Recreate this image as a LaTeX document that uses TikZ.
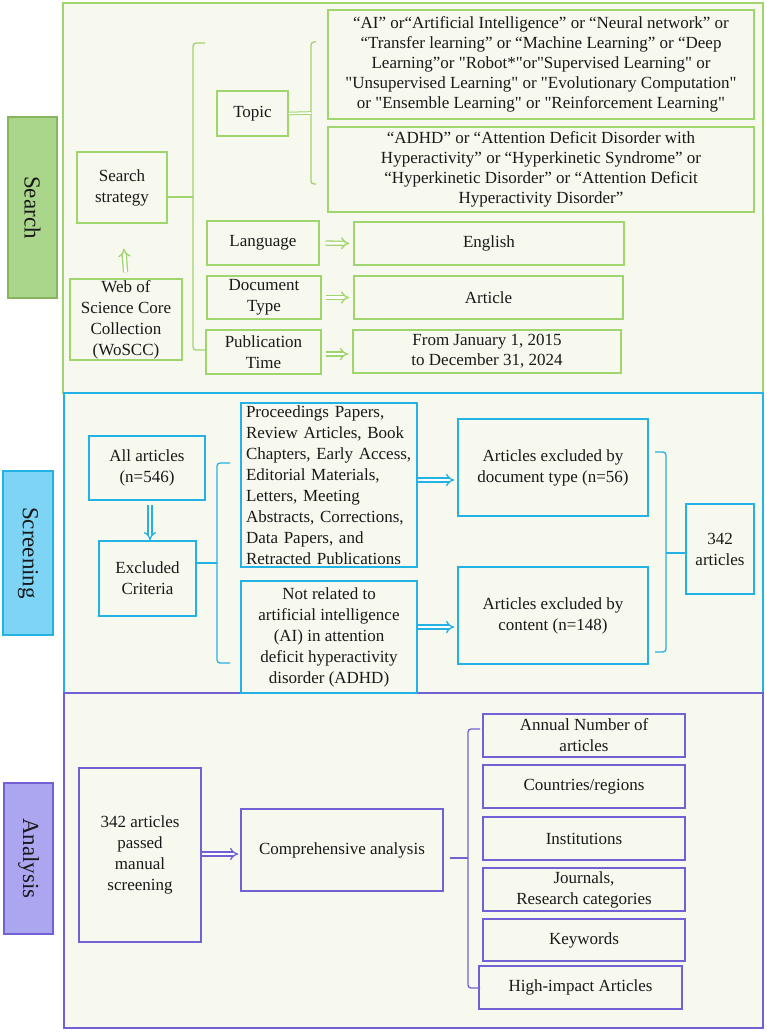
\documentclass[tikz,border=0pt]{standalone}
\usepackage{fontspec}
\setmainfont{Liberation Serif}
\newfontfamily\qf{Liberation Serif}
\usetikzlibrary{arrows.meta}
\definecolor{gcol}{RGB}{160,212,110}
\definecolor{glbl}{RGB}{170,214,140}
\definecolor{bcol}{RGB}{35,178,228}
\definecolor{blbl}{RGB}{125,212,245}
\definecolor{pcol}{RGB}{112,98,212}
\definecolor{plbl}{RGB}{172,166,240}
\definecolor{bg}{RGB}{247,249,238}
\definecolor{txt}{RGB}{25,25,25}
\newcommand{\fs}{\fontsize{17}{21}\selectfont}
\newcommand{\fss}{\qf\fontsize{17}{20}\selectfont}
\newcommand{\lfs}{\fontsize{23}{26}\selectfont}
\tikzset{
  base/.style={inner sep=0pt, align=center, font=\fs, text=txt},
  gbox/.style={base, draw=gcol, line width=1.4pt},
  bbox/.style={base, draw=bcol, line width=1.4pt},
  pbox/.style={base, draw=pcol, line width=1.3pt},
  sect/.style={inner sep=0pt, line width=1.3pt, fill=bg},
  lbl/.style={inner sep=0pt, rotate=-90, font=\lfs, text=txt, line width=1.4pt},
  harrow/.style={double, double distance=2.8pt, line width=1.3pt, -{Implies[scale=1.5]}},
  brace/.style={line width=1.3pt, rounded corners=3pt}
}
\begin{document}
\begin{tikzpicture}[x=1pt,y=-1pt]
\useasboundingbox (0,0) rectangle (767,1032);
% sections
\node[sect, draw=gcol, minimum width=700pt, minimum height=390pt] (secS) at (413,198) {};
\node[sect, draw=bcol, minimum width=699pt, minimum height=300pt] (secR) at (413.5,543) {};
\node[sect, draw=pcol, minimum width=699pt, minimum height=335pt] (secA) at (413.5,860.5) {};
% labels
\node[lbl, draw=gcol!85!black, fill=glbl, minimum width=181pt, minimum height=49pt] (lS) at (32.5,207.5) {Search};
\node[lbl, draw=bcol, fill=blbl, minimum width=164pt, minimum height=50pt] (lR) at (28,553) {Screening};
\node[lbl, draw=pcol, fill=plbl, minimum width=151pt, minimum height=49pt] (lA) at (28.5,858.5) {Analysis};

% ---------- Search ----------
\node[gbox, minimum width=90pt, minimum height=71pt] (strat) at (122,187.5) {Search\\strategy};
\node[gbox, minimum width=112pt, minimum height=81pt] (wos) at (126,319.5) {Web of\\Science Core\\Collection\\(WoSCC)};
\node[gbox, minimum width=71pt, minimum height=45pt] (topic) at (252.5,113.5) {Topic};
\node[gbox, font=\fss, minimum width=426pt, minimum height=109pt] (ai) at (541,64.5) {“AI” or“Artificial Intelligence” or “Neural network” or\\“Transfer learning” or “Machine Learning” or “Deep\\Learning”or "Robot*"or"Supervised Learning" or\\"Unsupervised Learning" or "Evolutionary Computation"\\or "Ensemble Learning" or "Reinforcement Learning"};
\node[gbox, font=\fss, minimum width=426pt, minimum height=85pt] (adhd) at (541,169.5) {“ADHD” or “Attention Deficit Disorder with\\Hyperactivity” or “Hyperkinetic Syndrome” or\\“Hyperkinetic Disorder” or “Attention Deficit\\Hyperactivity Disorder”};
\node[gbox, minimum width=112pt, minimum height=44pt] (lang) at (263,243) {Language};
\node[gbox, minimum width=270pt, minimum height=43pt] (eng) at (489,243.5) {English};
\node[gbox, minimum width=114pt, minimum height=43pt] (doc) at (264,297.5) {Document\\Type};
\node[gbox, minimum width=269pt, minimum height=43pt] (art) at (488.5,297.5) {Article};
\node[gbox, minimum width=115pt, minimum height=44pt] (pub) at (263.5,352) {Publication\\Time};
\node[gbox, font=\fss, minimum width=268pt, minimum height=43pt] (date) at (487,351.5) {From January 1, 2015\\to December 31, 2024};

\draw[harrow, draw=gcol, shorten <=6pt, shorten >=25pt] (wos.north) -- (strat.south);
\draw[harrow, draw=gcol, shorten <=6pt, shorten >=4pt] (lang.east) -- (eng.west);
\draw[harrow, draw=gcol, shorten <=4pt, shorten >=4pt] (doc.east) -- (art.west);
\draw[harrow, draw=gcol, shorten <=4pt, shorten >=4pt] (pub.east |- 0,354) -- (date.west |- 0,354);

% brace 1
\coordinate (b1) at (193,197);
\draw[brace, draw=gcol] (205,43) -- (193,43) -- (193,350) -- (206,350);
\draw[line width=1.3pt, draw=gcol] (strat.east |- b1) -- (b1);
% topic brace
\coordinate (b2) at (311,113);
\draw[brace, draw=gcol] (316,42) -- (311,42) -- (311,184) -- (316,184);
\draw[double, double distance=1.6pt, line width=1pt, draw=gcol] (topic.east) -- (b2);

% ---------- Screening ----------
\node[bbox, line width=2.4pt, minimum width=116pt, minimum height=64pt] (all) at (147,468) {All articles\\(n=546)};
\node[bbox, minimum width=97pt, minimum height=75pt] (excl) at (147.5,578.5) {Excluded\\Criteria};
\node[bbox, minimum width=176pt, minimum height=164pt, text width=166pt, align=left] (proc) at (329,485) {Proceedings Papers,\\Review Articles, Book\\Chapters, Early Access,\\Editorial Materials,\\Letters, Meeting\\Abstracts, Corrections,\\Data Papers, and\\Retracted Publications};
\node[bbox, minimum width=176pt, minimum height=112pt] (notrel) at (329,637) {Not related to\\artificial intelligence\\(AI) in attention\\deficit hyperactivity\\disorder (ADHD)};
\node[bbox, minimum width=190pt, minimum height=97pt] (exdoc) at (553,467.5) {Articles excluded by\\document type (n=56)};
\node[bbox, minimum width=190pt, minimum height=97pt] (excont) at (553,615.5) {Articles excluded by\\content (n=148)};
\node[bbox, line width=2.4pt, minimum width=68pt, minimum height=90pt] (n342) at (720,549) {342\\articles};

\draw[harrow, draw=bcol, shorten <=4pt, shorten >=0pt] (all.south -| 150,0) -- (excl.north -| 150,0);
\draw[harrow, draw=bcol, shorten <=0pt, shorten >=3pt] (proc.east |- 0,480) -- (exdoc.west |- 0,480);
\draw[harrow, draw=bcol, shorten <=0pt, shorten >=3pt] (notrel.east |- 0,627) -- (excont.west |- 0,627);

\coordinate (b3) at (217,563);
\draw[brace, draw=bcol] (230,463) -- (217,463) -- (217,663) -- (230,663);
\draw[line width=1.3pt, draw=bcol] (excl.east |- b3) -- (b3);
\coordinate (b4) at (666,553);
\draw[brace, draw=bcol] (655,452) -- (666,452) -- (666,652) -- (655,652);
\draw[line width=1.3pt, draw=bcol] (b4) -- (n342.west |- b4);

% ---------- Analysis ----------
\node[pbox, minimum width=122pt, minimum height=174pt] (passed) at (140,855) {342 articles\\passed\\manual\\screening};
\node[pbox, minimum width=202pt, minimum height=82pt] (comp) at (342,850) {Comprehensive analysis};
\node[pbox, minimum width=202pt, minimum height=43pt] (annual) at (584,735.5) {Annual Number of\\articles};
\node[pbox, minimum width=202pt, minimum height=43pt] (countries) at (584,786.5) {Countries/regions};
\node[pbox, minimum width=202pt, minimum height=43pt] (inst) at (584,838.5) {Institutions};
\node[pbox, minimum width=202pt, minimum height=43pt] (journ) at (584,889.5) {Journals,\\Research categories};
\node[pbox, minimum width=202pt, minimum height=42pt] (keyw) at (584,940) {Keywords};
\node[pbox, minimum width=203pt, minimum height=43pt] (high) at (580.5,987.5) {High-impact Articles};

\draw[harrow, draw=pcol, shorten <=0pt, shorten >=2pt] (passed.east |- 0,854) -- (comp.west |- 0,854);
\coordinate (b5) at (468,858);
\coordinate (b5s) at (450,858);
\draw[brace, draw=pcol] (480,729) -- (468,729) -- (468,988) -- (480,988);
\draw[line width=1.3pt, draw=pcol] (b5s) -- (b5);
\end{tikzpicture}
\end{document}
